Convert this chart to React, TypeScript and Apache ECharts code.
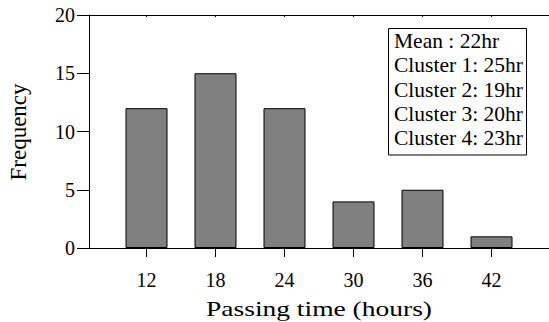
import React, { useEffect, useRef } from "react";
import * as echarts from "echarts";

const passingHours = [12, 18, 24, 30, 36, 42];
const frequency = [12, 15, 12, 4, 5, 1];
const yTicks = [0, 5, 10, 15, 20];
const legendLines = [
  "Mean : 22hr",
  "Cluster 1: 25hr",
  "Cluster 2: 19hr",
  "Cluster 3: 20hr",
  "Cluster 4: 23hr",
];
const xAxisTitle = "Passing time (hours)";
const yAxisTitle = "Frequency";

const FONT = "'Liberation Serif', 'Times New Roman', serif";

export default function App() {
  const ref = useRef<HTMLDivElement>(null);
  useEffect(() => {
    document.body.style.margin = "0";
    if (!ref.current) return;
    const chart = echarts.init(ref.current, null, { renderer: "svg" });
    const lineStyle = { color: "#000", width: 1 };
    chart.setOption({
      animation: false,
      backgroundColor: "#fff",
      grid: { left: 89, right: -2, top: 15, bottom: 74, containLabel: false },
      xAxis: [
        {
          type: "value",
          min: 7,
          max: 47,
          position: "bottom",
          axisLine: { show: true, lineStyle },
          axisTick: { show: true, length: 9, inside: false, customValues: passingHours, lineStyle },
          axisLabel: {
            show: true,
            customValues: passingHours,
            margin: 22,
            fontFamily: FONT,
            fontSize: 20,
            color: "#000",
          },
          splitLine: { show: false },
        },
        {
          type: "value",
          min: 7,
          max: 47,
          position: "top",
          axisLine: { show: true, lineStyle },
          axisTick: { show: true, length: 2, inside: true, customValues: passingHours, lineStyle },
          axisLabel: { show: false },
          splitLine: { show: false },
        },
      ],
      yAxis: {
        type: "value",
        min: yTicks[0],
        max: yTicks[yTicks.length - 1],
        interval: 5,
        axisLine: { show: true, lineStyle },
        axisTick: { show: true, length: 12, inside: false, lineStyle },
        axisLabel: {
          margin: 14,
          fontFamily: FONT,
          fontSize: 20,
          color: "#000",
        },
        splitLine: { show: false },
      },
      series: [
        {
          type: "bar",
          xAxisIndex: 0,
          barWidth: 42,
          data: passingHours.map((h, i) => [h, frequency[i]]),
          itemStyle: { color: "#808080", borderColor: "#000", borderWidth: 1 },
        },
      ],
      graphic: [
        {
          type: "text",
          x: 319,
          y: 308,
          scaleX: 1.25,
          style: {
            text: xAxisTitle,
            fontFamily: FONT,
            fontSize: 22,
            fill: "#000",
            align: "center",
            verticalAlign: "middle",
          },
        },
        {
          type: "text",
          x: 18,
          y: 132,
          rotation: Math.PI / 2,
          style: {
            text: yAxisTitle,
            fontFamily: FONT,
            fontSize: 23,
            fill: "#000",
            align: "center",
            verticalAlign: "middle",
          },
        },
        {
          type: "rect",
          shape: { x: 388.5, y: 28.5, width: 138, height: 126.5 },
          style: { fill: "#fff", stroke: "#000", lineWidth: 1 },
        },
        ...legendLines.map((t, i) => ({
          type: "text",
          x: 394,
          y: 41 + i * 24.3,
          style: {
            text: t,
            fontFamily: FONT,
            fontSize: 21.5,
            fill: "#000",
            align: "left",
            verticalAlign: "middle",
          },
        })),
      ],
    });
    return () => chart.dispose();
  }, []);
  return <div ref={ref} style={{ width: 549, height: 322 }} />;
}
